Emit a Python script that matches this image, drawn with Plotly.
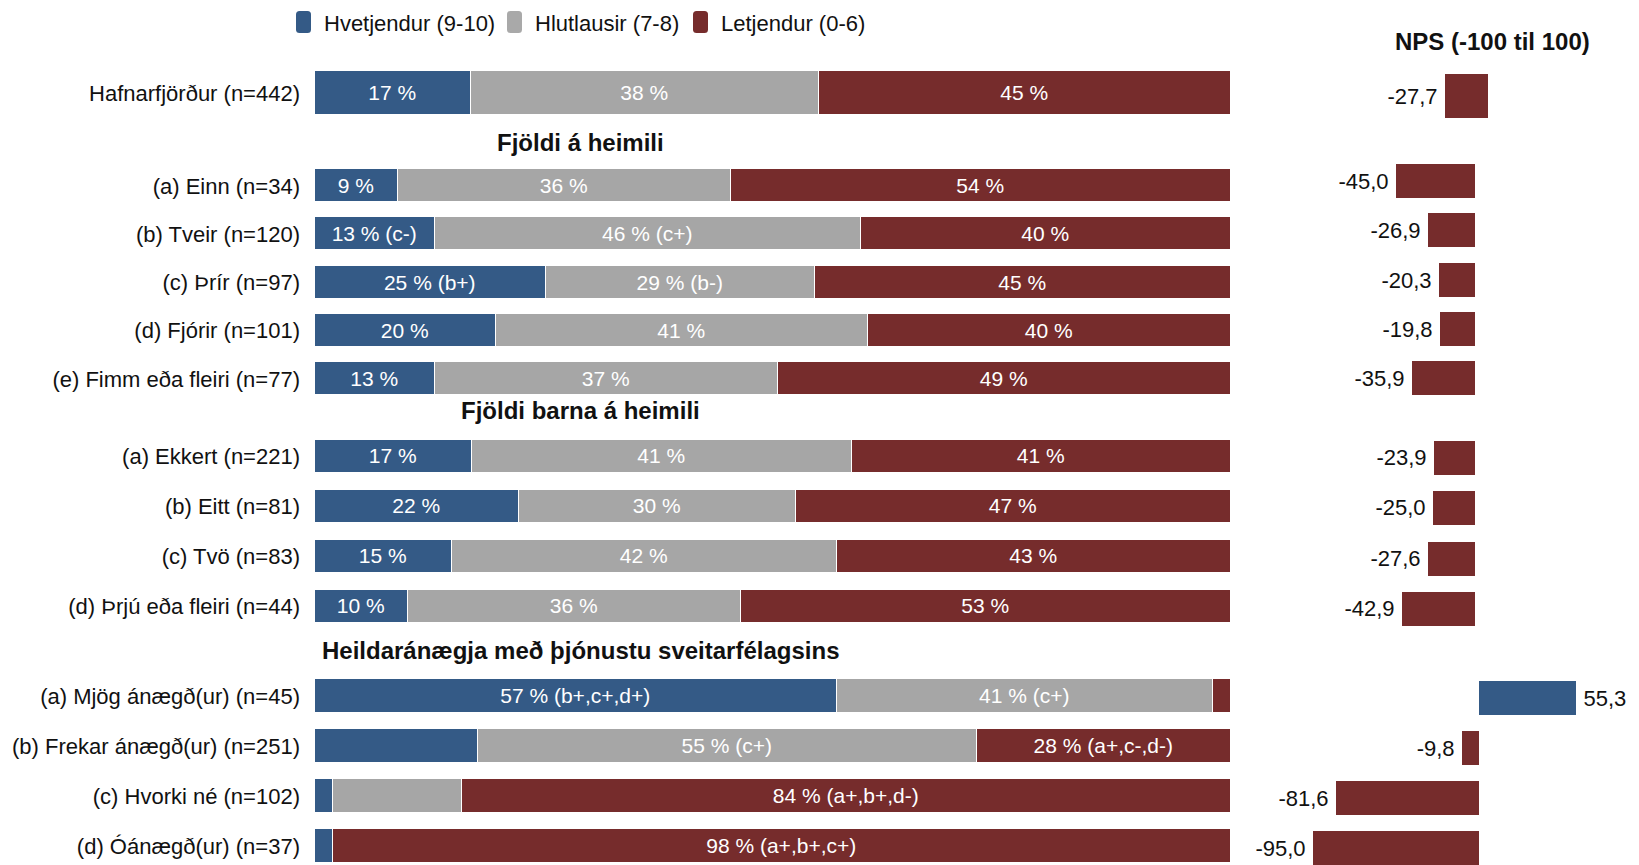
import plotly.graph_objects as go

W, H = 1639, 865

# ---------------------------------------------------------------------------
# Survey results: shares (%) of promoters / passives / detractors and NPS
# ---------------------------------------------------------------------------
hafn_rows = ["Hafnarfjörður (n=442)"]
hafn_promoters = [17]
hafn_passives = [38]
hafn_detractors = [45]
hafn_nps = [-27.7]

heimili_rows = ["(a) Einn (n=34)", "(b) Tveir (n=120)", "(c) Þrír (n=97)",
                "(d) Fjórir (n=101)", "(e) Fimm eða fleiri (n=77)"]
heimili_promoters = [9, 13, 25, 20, 13]
heimili_passives = [36, 46, 29, 41, 37]
heimili_detractors = [54, 40, 45, 40, 49]
heimili_promoter_notes = ["", "(c-)", "(b+)", "", ""]
heimili_passive_notes = ["", "(c+)", "(b-)", "", ""]
heimili_detractor_notes = ["", "", "", "", ""]
heimili_nps = [-45.0, -26.9, -20.3, -19.8, -35.9]

born_rows = ["(a) Ekkert (n=221)", "(b) Eitt (n=81)", "(c) Tvö (n=83)",
             "(d) Þrjú eða fleiri (n=44)"]
born_promoters = [17, 22, 15, 10]
born_passives = [41, 30, 42, 36]
born_detractors = [41, 47, 43, 53]
born_nps = [-23.9, -25.0, -27.6, -42.9]

anaegja_rows = ["(a) Mjög ánægð(ur) (n=45)", "(b) Frekar ánægð(ur) (n=251)",
                "(c) Hvorki né (n=102)", "(d) Óánægð(ur) (n=37)"]
anaegja_promoters = [57, 18, 2, 2]
anaegja_passives = [41, 55, 14, 0]
anaegja_detractors = [2, 28, 84, 98]
# None = segment shown without a data label
anaegja_promoter_notes = ["(b+,c+,d+)", None, None, None]
anaegja_passive_notes = ["(c+)", "(c+)", None, None]
anaegja_detractor_notes = [None, "(a+,c-,d-)", "(a+,b+,d-)", "(a+,b+,c+)"]
anaegja_nps = [55.3, -9.8, -81.6, -95.0]

series_names = ["Hvetjendur (9-10)", "Hlutlausir (7-8)", "Letjendur (0-6)"]
section_titles = ["Fjöldi á heimili", "Fjöldi barna á heimili",
                  "Heildaránægja með þjónustu sveitarfélagsins"]
nps_title = "NPS (-100 til 100)"

# ---------------------------------------------------------------------------
# Styling
# ---------------------------------------------------------------------------
BLUE, GREY, RED = "#345A86", "#A6A6A6", "#762C2C"
LEGEND_GREY = "#A9A9A9"
FONT = "Liberation Sans, Arial, Helvetica, sans-serif"
TXT = "#111111"
THIN = "\u2009"

BAR_X0, BAR_X1 = 315, 1231          # stacked-bar panel (px)
NPS_X0, NPS_X1 = 1240, W            # NPS panel (px)

groups = [
    dict(rows=hafn_rows, vals=[hafn_promoters, hafn_passives, hafn_detractors],
         notes=[[""], [""], [""]], nps=hafn_nps,
         left=(93, 48, 44), right=(96, 48, 44, 1488, 1.55)),
    dict(rows=heimili_rows,
         vals=[heimili_promoters, heimili_passives, heimili_detractors],
         notes=[heimili_promoter_notes, heimili_passive_notes, heimili_detractor_notes],
         nps=heimili_nps,
         left=(186, 48.25, 34), right=(181, 49.4, 34, 1475, 1.75)),
    dict(rows=born_rows, vals=[born_promoters, born_passives, born_detractors],
         notes=[[""] * 4, [""] * 4, [""] * 4], nps=born_nps,
         left=(456.5, 50, 34), right=(458, 50.2, 34, 1475, 1.70)),
    dict(rows=anaegja_rows,
         vals=[anaegja_promoters, anaegja_passives, anaegja_detractors],
         notes=[anaegja_promoter_notes, anaegja_passive_notes, anaegja_detractor_notes],
         nps=anaegja_nps,
         left=(696, 50, 34), right=(698, 50, 34, 1479, 1.75)),
]


def px_x(x):
    return x / W


def px_y(y):
    return 1 - y / H


def seg_label(v, note):
    if note is None:
        return ""
    return f"{v} %" + (f" {note}" if note else "")


def nps_label(v):
    s = f"{v:.1f}".replace(".", ",")
    # small gap between the bar end and its value
    return s + THIN if v < 0 else THIN + s


def y_geometry(first, pitch, n):
    top = first - pitch / 2
    bottom = min(first + (n - 0.5) * pitch, H)
    domain = [px_y(bottom), px_y(top)]
    rng = [(bottom - first) / pitch, -0.5]
    return domain, rng


fig = go.Figure()
layout_axes = {}
colors = [BLUE, GREY, RED]

for gi, g in enumerate(groups):
    n = len(g["rows"])
    li = gi + 1          # stacked-bar axes
    ri = gi + 5          # NPS axes
    lx, ly = f"x{li}", f"y{li}"
    rx, ry = f"x{ri}", f"y{ri}"

    # --- 100 % stacked bars (each row normalised to its own total) ---
    first, pitch, thick = g["left"]
    totals = [sum(v[i] for v in g["vals"]) for i in range(n)]
    for si, (vals, notes) in enumerate(zip(g["vals"], g["notes"])):
        shares = [v / t * 100 for v, t in zip(vals, totals)]
        fig.add_trace(go.Bar(
            y=g["rows"], x=shares, orientation="h", name=series_names[si],
            marker=dict(color=colors[si], line=dict(color="white", width=1.5)),
            text=[seg_label(v, nt) for v, nt in zip(vals, notes)],
            textposition="inside", insidetextanchor="middle",
            textfont=dict(color="white", size=21, family=FONT),
            constraintext="none", width=thick / pitch,
            xaxis=lx, yaxis=ly, showlegend=False, hoverinfo="skip",
        ))
    dom, rng = y_geometry(first, pitch, n)
    layout_axes[f"xaxis{li}"] = dict(domain=[px_x(BAR_X0), px_x(BAR_X1)],
                                    range=[0, 100], visible=False, anchor=ly)
    layout_axes[f"yaxis{li}"] = dict(domain=dom, range=rng, type="category",
                                    categoryarray=g["rows"], anchor=lx,
                                    showgrid=False, zeroline=False, showline=False,
                                    ticks="", ticklabelstandoff=14, automargin=False,
                                    tickfont=dict(size=22, color=TXT, family=FONT))

    # --- NPS bars ---
    first, pitch, thick, zero_px, scale = g["right"]
    fig.add_trace(go.Bar(
        y=g["rows"], x=g["nps"], orientation="h",
        marker=dict(color=[BLUE if v >= 0 else RED for v in g["nps"]],
                    line=dict(width=0)),
        text=[nps_label(v) for v in g["nps"]], textposition="outside",
        textfont=dict(color=TXT, size=22, family=FONT),
        constraintext="none", cliponaxis=False, width=thick / pitch,
        xaxis=rx, yaxis=ry, showlegend=False, hoverinfo="skip",
    ))
    dom, rng = y_geometry(first, pitch, n)
    layout_axes[f"xaxis{ri}"] = dict(domain=[px_x(NPS_X0), px_x(NPS_X1)],
                                    range=[(NPS_X0 - zero_px) / scale,
                                           (NPS_X1 - zero_px) / scale],
                                    visible=False, anchor=ry)
    layout_axes[f"yaxis{ri}"] = dict(domain=dom, range=rng, type="category",
                                    categoryarray=g["rows"], anchor=rx,
                                    visible=False)

# ---------------------------------------------------------------------------
# Section headings, NPS heading and legend
# ---------------------------------------------------------------------------
annotations = []
for title, ypx in zip(section_titles, [143, 410, 650]):
    annotations.append(dict(text=title, x=px_x(580), y=px_y(ypx),
                            xref="paper", yref="paper", xanchor="center",
                            yanchor="middle", showarrow=False,
                            font=dict(size=24, color=TXT, family=FONT, weight="bold")))
annotations.append(dict(text=nps_title, x=px_x(1492), y=px_y(41),
                        xref="paper", yref="paper", xanchor="center",
                        yanchor="middle", showarrow=False,
                        font=dict(size=24, color=TXT, family=FONT, weight="bold")))


def rounded_rect(x0, y0, x1, y1, r):
    X, Y = px_x, px_y
    return (f"M {X(x0 + r)},{Y(y0)} L {X(x1 - r)},{Y(y0)} "
            f"Q {X(x1)},{Y(y0)} {X(x1)},{Y(y0 + r)} L {X(x1)},{Y(y1 - r)} "
            f"Q {X(x1)},{Y(y1)} {X(x1 - r)},{Y(y1)} L {X(x0 + r)},{Y(y1)} "
            f"Q {X(x0)},{Y(y1)} {X(x0)},{Y(y1 - r)} L {X(x0)},{Y(y0 + r)} "
            f"Q {X(x0)},{Y(y0)} {X(x0 + r)},{Y(y0)} Z")


shapes = []
legend_x = [296, 507, 693]
for name, col, lx0 in zip(series_names, [BLUE, LEGEND_GREY, RED], legend_x):
    shapes.append(dict(type="path", xref="paper", yref="paper",
                       path=rounded_rect(lx0, 11, lx0 + 15, 33, 3.5),
                       fillcolor=col, line=dict(width=0)))
    annotations.append(dict(text=name, x=px_x(lx0 + 26), y=px_y(23),
                            xref="paper", yref="paper", xanchor="left",
                            yanchor="middle", showarrow=False,
                            font=dict(size=22, color=TXT, family=FONT)))

fig.update_layout(
    width=W, height=H, autosize=False,
    margin=dict(l=0, r=0, t=0, b=0, pad=0),
    paper_bgcolor="white", plot_bgcolor="white",
    font=dict(family=FONT, color=TXT),
    barmode="stack", bargap=0,
    uniformtext=dict(minsize=21, mode="show"),
    showlegend=False,
    annotations=annotations, shapes=shapes,
    **layout_axes,
)

fig.write_html("out.html")
